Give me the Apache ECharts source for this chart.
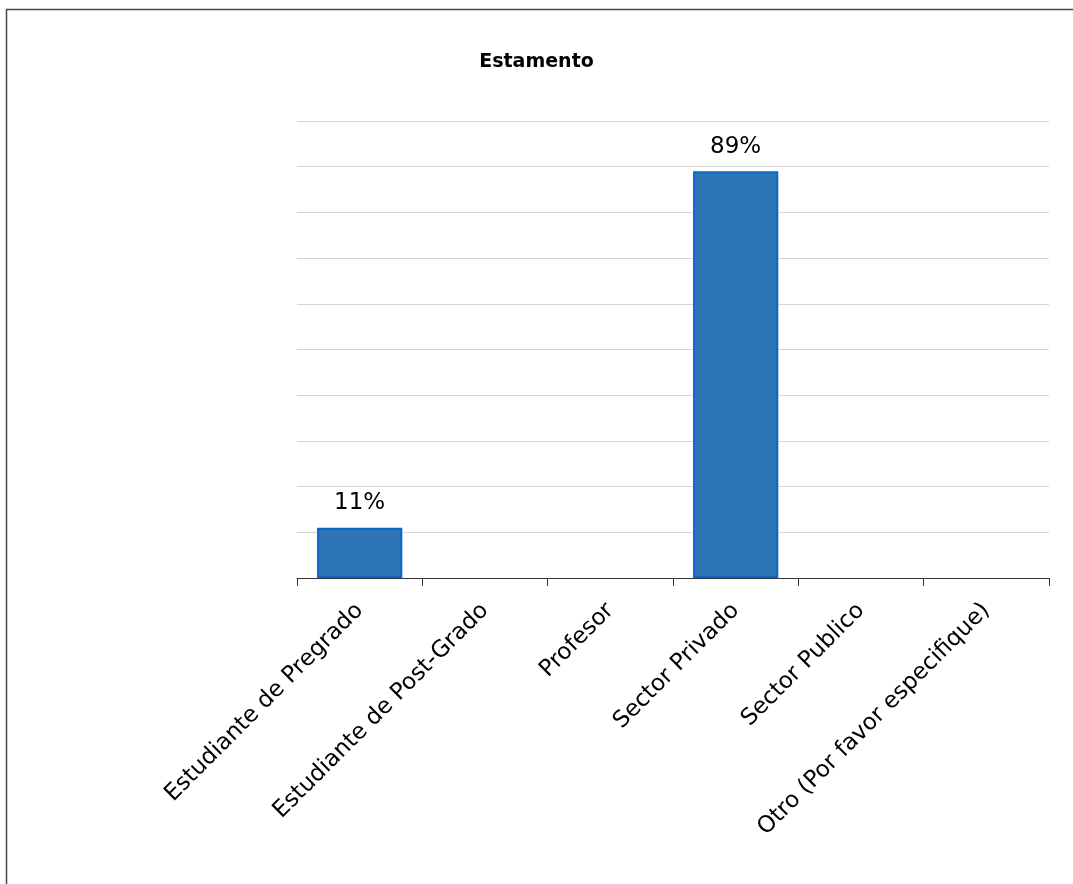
<!DOCTYPE html>
<html>
<head>
<meta charset="utf-8">
<title>Estamento</title>
<script src="https://cdn.jsdelivr.net/npm/echarts@6/dist/echarts.min.js"></script>
<style>
  html, body { margin: 0; padding: 0; background: #ffffff; }
  #chart { width: 1073px; height: 884px; }
</style>
</head>
<body>
<div id="chart"></div>
<script>
// Share of respondents by group (percent)
const categories = [
  'Estudiante de Pregrado',
  'Estudiante de Post-Grado',
  'Profesor',
  'Sector Privado',
  'Sector Publico',
  'Otro (Por favor especifique)'
];
const percentages = [11, 0, 0, 89, 0, 0];
const chartTitle = 'Estamento';

const FONT = '"DejaVu Sans", Verdana, sans-serif';

// Empty categories get no outline so nothing is drawn on the axis for them
const barData = percentages.map(v => ({
  value: v,
  itemStyle: v ? {} : { borderWidth: 0 }
}));

const chart = echarts.init(document.getElementById('chart'), null, { renderer: 'canvas' });

chart.setOption({
  animation: false,
  backgroundColor: '#ffffff',
  textStyle: { fontFamily: FONT },
  title: {
    text: chartTitle,
    left: 'center',
    top: 48,
    textStyle: { fontFamily: FONT, fontSize: 19, fontWeight: 'bold', color: '#000000' }
  },
  graphic: [{
    type: 'rect',
    shape: { x: 6.5, y: 9.5, width: 1200, height: 1000 },
    style: { fill: 'none', stroke: '#454545', lineWidth: 1.5 },
    silent: true
  }],
  grid: { left: 297, right: 24, top: 121, bottom: 306, containLabel: false },
  xAxis: {
    type: 'category',
    data: categories,
    boundaryGap: true,
    axisLine: { show: true, lineStyle: { color: '#333333', width: 1 } },
    axisTick: { show: true, length: 8, lineStyle: { color: '#333333', width: 1 } },
    axisLabel: {
      interval: 0,
      rotate: 45,
      margin: 29,
      fontFamily: FONT,
      fontSize: 23,
      color: '#000000'
    }
  },
  yAxis: {
    type: 'value',
    min: 0,
    max: 100,
    interval: 10,
    axisLine: { show: false },
    axisTick: { show: false },
    axisLabel: { show: false },
    splitLine: { show: true, lineStyle: { color: '#d4d4d4', width: 1 } }
  },
  series: [{
    type: 'bar',
    data: barData,
    barCategoryGap: '32%',
    itemStyle: { color: '#2E75B6', borderColor: '#0A66CC', borderWidth: 2 },
    label: {
      show: true,
      position: 'top',
      distance: 13,
      fontFamily: FONT,
      fontSize: 23,
      color: '#000000',
      formatter: p => (p.value ? p.value + '%' : '')
    }
  }]
});
</script>
</body>
</html>
